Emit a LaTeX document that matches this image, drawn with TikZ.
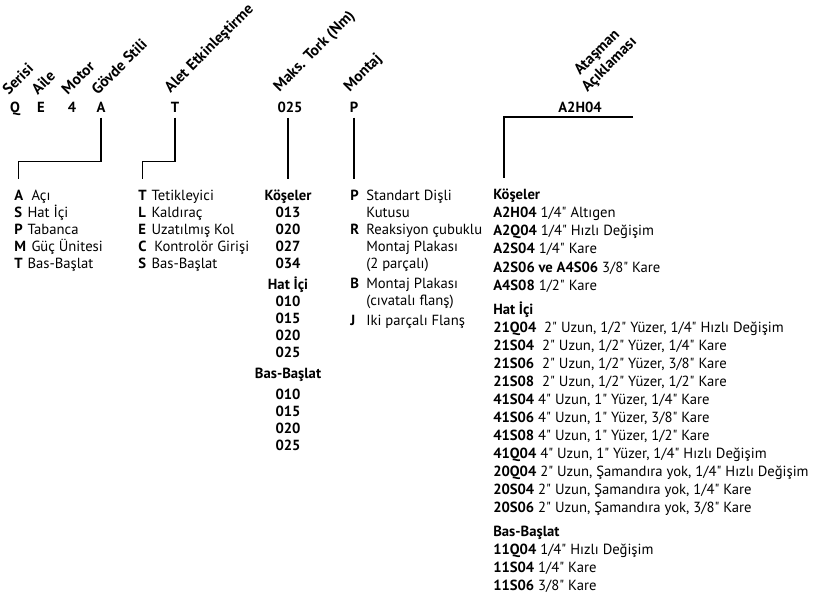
\documentclass[tikz,border=0pt]{standalone}
\usepackage{fontspec}
\setmainfont{PT Sans}[Ligatures=TeXOff]
\usetikzlibrary{calc}

\newcommand{\bodysize}{\fontsize{11pt}{13pt}\selectfont}
\newcommand{\tagsize}{\fontsize{11.5pt}{13pt}\selectfont}
\newcommand{\kod}[2][10pt]{\makebox[#1][l]{\bfseries #2}}

\begin{document}
\begin{tikzpicture}[x=0.75pt,y=0.75pt,
    code/.style={font=\bodysize\bfseries,inner sep=0pt,anchor=base},
    tag/.style={font=\tagsize\bfseries,inner sep=0pt,rotate=45,anchor=south west},
    item/.style={font=\bodysize,inner sep=0pt,anchor=base west},
    head/.style={font=\bodysize\bfseries,inner sep=0pt,anchor=base west},
    num/.style={font=\bodysize\bfseries,inner sep=0pt,anchor=base},
    conn/.style={line width=1.1pt,shorten <=4pt,shorten >=7.5pt}
]
\useasboundingbox (0,0) rectangle (816,-601);

% code row
\node[code] (cQ) at (15,-112)  {Q};
\node[code] (cE) at (41,-112)  {E};
\node[code] (c4) at (72,-112)  {4};
\node[code] (cA) at (101,-112) {A};
\node[code] (cT) at (175,-112) {T};
\node[code] (cM) at (290,-112) {025};
\node[code] (cP) at (354,-112) {P};
\node[code] (cX) at (580,-112) {A2H04};
\coordinate (xR) at (633,-117);

% slanted field names
\node[tag] (tQ) at (9,-96)   {Serisi};
\node[tag] (tE) at (38,-96)  {Aile};
\node[tag] (t4) at (68,-96)  {Motor};
\node[tag] (tA) at (98,-96)  {Gövde Stili};
\node[tag] (tT) at (173,-96) {Alet Etkinleştirme};
\node[tag] (tM) at (282,-95) {Maks. Tork (Nm)};
\node[tag] (tP) at (352,-95) {Montaj};
\node[tag,align=center] (tX) at (590,-95) {Ataşman\\Açıklaması};

% body style
\node[item] (lA) at (14,-200) {\kod{A}\ Açı};
\node[item] (lS) at (14,-217) {\kod{S}Hat İçi};
\node[item] (lP) at (14,-234) {\kod{P}Tabanca};
\node[item] (lM) at (14,-251) {\kod{M}\ Güç Ünitesi};
\node[item] (lT) at (14,-268) {\kod{T}Bas-Başlat};

% tool activation
\node[item] (aT) at (138,-200) {\kod{T}Tetikleyici};
\node[item] (aL) at (138,-217) {\kod{L}Kaldıraç};
\node[item] (aE) at (138,-234) {\kod{E}Uzatılmış Kol};
\node[item] (aC) at (138,-251) {\kod[12pt]{C}Kontrolör Girişi};
\node[item] (aS) at (138,-268) {\kod{S}Bas-Başlat};

% max torque
\node[num] (hK) at (288,-200) {Köşeler};
\node[num] (k1) at (288,-217) {013};
\node[num] (k2) at (288,-234) {020};
\node[num] (k3) at (288,-251) {027};
\node[num] (k4) at (288,-268) {034};
\node[num] (hH) at (288,-289) {Hat İçi};
\node[num] (h1) at (288,-306) {010};
\node[num] (h2) at (288,-323) {015};
\node[num] (h3) at (288,-340) {020};
\node[num] (h4) at (288,-357) {025};
\node[num] (hB) at (288,-378) {Bas-Başlat};
\node[num] (b1) at (288,-399) {010};
\node[num] (b2) at (288,-416) {015};
\node[num] (b3) at (288,-433) {020};
\node[num] (b4) at (288,-450) {025};

% mounting
\node[item] (mP)  at (350,-200) {\kod[12pt]{P}Standart Dişli};
\node[item] (mP2) at (366,-217) {Kutusu};
\node[item] (mR)  at (350,-234) {\kod[12pt]{R}Reaksiyon çubuklu};
\node[item] (mR2) at (366,-251) {Montaj Plakası};
\node[item] (mR3) at (366,-268) {(2 parçalı)};
\node[item] (mB)  at (350,-288) {\kod[12pt]{B}Montaj Plakası};
\node[item] (mB2) at (366,-305) {(cıvatalı flanş)};
\node[item] (mJ)  at (350,-325) {\kod[12pt]{J}Iki parçalı Flanş};

% attachment
\node[head] (rK)  at (493,-199) {Köşeler};
\node[item] (r1)  at (493,-217) {\textbf{A2H04} 1/4" Altıgen};
\node[item] (r2)  at (493,-235) {\textbf{A2Q04} 1/4" Hızlı Değişim};
\node[item] (r3)  at (493,-253) {\textbf{A2S04} 1/4" Kare};
\node[item] (r4)  at (493,-272) {\textbf{A2S06 ve A4S06} 3/8" Kare};
\node[item] (r5)  at (493,-290) {\textbf{A4S08} 1/2" Kare};
\node[head] (rH)  at (493,-314) {Hat İçi};
\node[item] (s1)  at (493,-332) {\textbf{21Q04}\ \ 2" Uzun, 1/2" Yüzer, 1/4" Hızlı Değişim};
\node[item] (s2)  at (493,-350) {\textbf{21S04}\ \ 2" Uzun, 1/2" Yüzer, 1/4" Kare};
\node[item] (s3)  at (493,-368) {\textbf{21S06}\ \ 2" Uzun, 1/2" Yüzer, 3/8" Kare};
\node[item] (s4)  at (493,-386) {\textbf{21S08}\ \ 2" Uzun, 1/2" Yüzer, 1/2" Kare};
\node[item] (s5)  at (493,-404) {\textbf{41S04}\ 4" Uzun, 1" Yüzer, 1/4" Kare};
\node[item] (s6)  at (493,-422) {\textbf{41S06}\ 4" Uzun, 1" Yüzer, 3/8" Kare};
\node[item] (s7)  at (493,-440) {\textbf{41S08}\ 4" Uzun, 1" Yüzer, 1/2" Kare};
\node[item] (s8)  at (493,-458) {\textbf{41Q04}\ 4" Uzun, 1" Yüzer, 1/4" Hızlı Değişim};
\node[item] (s9)  at (493,-476) {\textbf{20Q04}\ 2" Uzun, Şamandıra yok, 1/4" Hızlı Değişim};
\node[item] (s10) at (493,-494) {\textbf{20S04}\ 2" Uzun, Şamandıra yok, 1/4" Kare};
\node[item] (s11) at (493,-512) {\textbf{20S06}\ 2" Uzun, Şamandıra yok, 3/8" Kare};
\node[head] (rB)  at (493,-536) {Bas-Başlat};
\node[item] (p1)  at (493,-554) {\textbf{11Q04} 1/4" Hızlı Değişim};
\node[item] (p2)  at (493,-572) {\textbf{11S04} 1/4" Kare};
\node[item] (p3)  at (493,-590) {\textbf{11S06} 3/8" Kare};

% connectors
\draw[conn] (cA.south) -- ++(0,-49) -| ([xshift=3.3pt]lA.north west);
\draw[conn] (cT.south) -- ++(0,-49) -| ([xshift=3.3pt]aT.north west);
\draw[conn] ([xshift=-1.5pt]cM.south) -- ([xshift=-1.5pt]cM.south |- hK.north);
\draw[conn] (cP.south) -- (cP.south |- mP.north);
\draw[conn,shorten <=0pt] (xR) -| ([xshift=8.25pt]rK.north west);
\end{tikzpicture}
\end{document}
